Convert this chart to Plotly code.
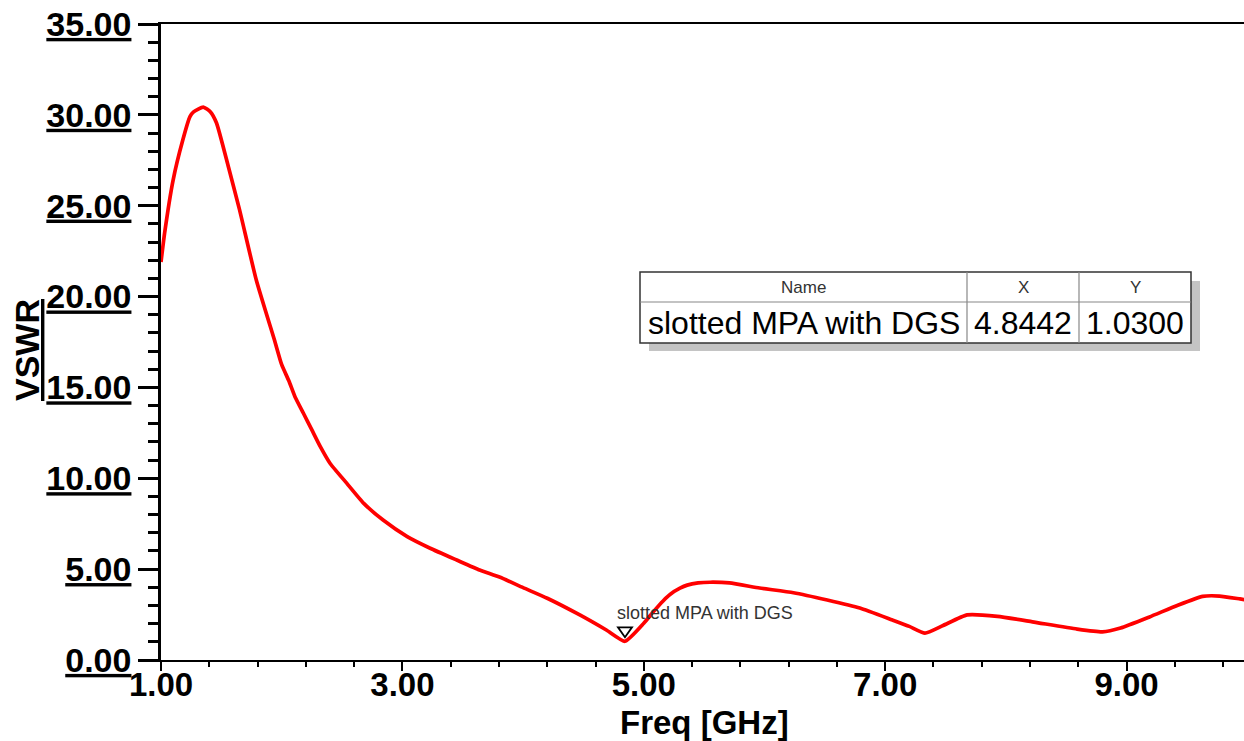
import plotly.graph_objects as go

# ---- data ----
freq = [1.00, 1.03, 1.10, 1.18, 1.24, 1.27, 1.35, 1.41, 1.46, 1.56, 1.65, 1.79,
        1.94, 2.00, 2.06, 2.11, 2.18, 2.25, 2.32, 2.40, 2.54, 2.68, 2.84,
        3.04, 3.23, 3.45, 3.64, 3.81, 4.00, 4.20, 4.47, 4.69, 4.8442,
        5.00, 5.08, 5.16, 5.22, 5.30, 5.36, 5.45, 5.55, 5.71, 5.96, 6.24, 6.52, 6.79,
        7.06, 7.20, 7.33, 7.48, 7.68, 7.93, 8.22, 8.59, 8.80, 8.95, 9.19, 9.42,
        9.63, 9.77, 9.94, 10.00]
vswr = [21.9, 23.5, 26.4, 28.6, 29.9, 30.16, 30.43, 30.16, 29.55, 27.1, 24.8, 20.9,
        17.61, 16.25, 15.35, 14.49, 13.58, 12.66, 11.74, 10.83, 9.72, 8.62, 7.70,
        6.79, 6.15, 5.50, 4.95, 4.55, 3.98, 3.40, 2.48, 1.65, 1.03,
        2.02, 2.66, 3.25, 3.62, 3.95, 4.12, 4.24, 4.28, 4.24, 3.96, 3.70, 3.30, 2.86,
        2.20, 1.85, 1.48, 1.90, 2.48, 2.40, 2.10, 1.70, 1.55, 1.76, 2.37, 3.00,
        3.50, 3.52, 3.36, 3.30]

series_name = "slotted MPA with DGS"
marker_x = 4.8442
marker_y = 1.0300

x_ticks = [1, 3, 5, 7, 9]
y_ticks = [0, 5, 10, 15, 20, 25, 30, 35]

FONT = "Liberation Sans, Arial, sans-serif"

# pixel -> paper helpers (plot area 161..1244 x 24..660)
L, T, W, H = 161, 24, 1083, 636
def PX(px):
    return (px - L) / W
def PY(py):
    return (T + H - py) / H

fig = go.Figure()
fig.add_trace(go.Scatter(
    x=freq, y=vswr, mode="lines", name=series_name,
    line=dict(color="#ff0000", width=3.7, shape="spline", smoothing=0.5),
    showlegend=False, hoverinfo="x+y"))

fig.update_layout(
    width=1244, height=741, autosize=False,
    margin=dict(l=L, r=0, t=T, b=741 - T - H),
    paper_bgcolor="white", plot_bgcolor="white",
    showlegend=False,
    xaxis=dict(
        range=[1, 9.973], tickmode="array", tickvals=x_ticks,
        ticktext=[f"{v:.2f}" for v in x_ticks],
        ticks="outside", ticklen=9, tickwidth=1.5, tickcolor="black",
        ticklabelstandoff=-14,
        showline=True, linewidth=1.5, linecolor="black", mirror=True,
        showgrid=False, zeroline=False,
        tickfont=dict(family=FONT, size=33, color="black", weight="bold"),
        minor=dict(dtick=0.4, tick0=1, ticks="outside", ticklen=5, tickwidth=1.5,
                   tickcolor="black", showgrid=False),
    ),
    yaxis=dict(
        range=[0, 35], tickmode="array", tickvals=y_ticks,
        ticktext=[f"<u>{v:.2f}</u>" for v in y_ticks],
        ticks="outside", ticklen=20, tickwidth=2.5, tickcolor="black",
        showline=True, linewidth=2.5, linecolor="black",
        showgrid=False, zeroline=False,
        tickfont=dict(family=FONT, size=34, color="black", weight="bold"),
        minor=dict(dtick=1, tick0=0, ticks="outside", ticklen=10, tickwidth=2.5,
                   tickcolor="black", showgrid=False),
    ),
)

annotations = [
    dict(text="<b>Freq [GHz]</b>", xref="paper", yref="paper", x=PX(704), y=PY(722),
         xanchor="center", yanchor="middle", showarrow=False,
         font=dict(family=FONT, size=33, color="black")),
    dict(text="<b><u>VSWR</u></b>", xref="paper", yref="paper", x=PX(27), y=PY(350),
         xanchor="center", yanchor="middle", showarrow=False, textangle=-90,
         font=dict(family=FONT, size=34, color="black")),
    dict(text=series_name, xref="x", yref="y", x=marker_x, y=marker_y,
         xanchor="left", yanchor="bottom", xshift=-10, yshift=16, showarrow=False,
         font=dict(family=FONT, size=18, color="#333333")),
]

# table
tx0, tx1, tx2, tx3 = 640, 967, 1079, 1191
ty0, ty1, ty2 = 272, 302, 343
hdr_y = (ty0 + ty1) / 2
row_y = (ty1 + ty2) / 2
for txt, cx in [("Name", (tx0 + tx1) / 2), ("X", (tx1 + tx2) / 2), ("Y", (tx2 + tx3) / 2)]:
    annotations.append(dict(text=txt, xref="paper", yref="paper", x=PX(cx), y=PY(hdr_y),
                            xanchor="center", yanchor="middle", showarrow=False,
                            font=dict(family=FONT, size=17, color="#333333")))
for txt, cx in [(series_name, (tx0 + tx1) / 2), (f"{marker_x:.4f}", (tx1 + tx2) / 2),
                (f"{marker_y:.4f}", (tx2 + tx3) / 2)]:
    annotations.append(dict(text=txt, xref="paper", yref="paper", x=PX(cx), y=PY(row_y),
                            xanchor="center", yanchor="middle", showarrow=False,
                            font=dict(family=FONT, size=32, color="black")))
fig.update_layout(annotations=annotations)

shapes = [
    # shadow
    dict(type="rect", xref="paper", yref="paper", x0=PX(tx0 + 9), x1=PX(tx3 + 9),
         y0=PY(ty0 + 9), y1=PY(ty2 + 8), fillcolor="#c4c4c4", line=dict(width=0),
         layer="above"),
    # box
    dict(type="rect", xref="paper", yref="paper", x0=PX(tx0), x1=PX(tx3),
         y0=PY(ty0), y1=PY(ty2), fillcolor="white", line=dict(color="#333333", width=1.5),
         layer="above"),
    dict(type="line", xref="paper", yref="paper", x0=PX(tx0), x1=PX(tx3),
         y0=PY(ty1), y1=PY(ty1), line=dict(color="#888888", width=1.2), layer="above"),
    dict(type="line", xref="paper", yref="paper", x0=PX(tx1), x1=PX(tx1),
         y0=PY(ty0), y1=PY(ty2), line=dict(color="#888888", width=1.2), layer="above"),
    dict(type="line", xref="paper", yref="paper", x0=PX(tx2), x1=PX(tx2),
         y0=PY(ty0), y1=PY(ty2), line=dict(color="#888888", width=1.2), layer="above"),
    # marker triangle (open, pointing down, sitting above the data point)
    dict(type="path", xref="x", yref="y", xsizemode="pixel", ysizemode="pixel",
         xanchor=marker_x, yanchor=marker_y, path="M -7,14 L 7,14 L 0,4 Z",
         line=dict(color="black", width=1.8), fillcolor="rgba(255,255,255,0)",
         layer="above"),
]
fig.update_layout(shapes=shapes)

fig.write_html("out.html")
